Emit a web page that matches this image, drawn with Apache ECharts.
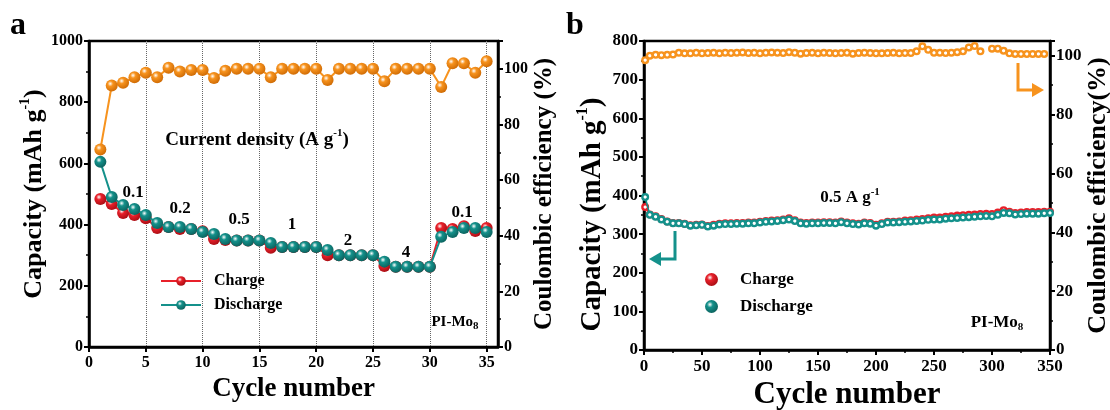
<!DOCTYPE html>
<html>
<head>
<meta charset="utf-8">
<script src="https://cdn.jsdelivr.net/npm/echarts@6/dist/echarts.min.js"></script>
<style>html,body{margin:0;padding:0;background:#fff;}#c{width:1110px;height:410px;}</style>
</head>
<body>
<div id="c"></div>
<script>
// ---------- Panel a data ----------
const cyclesA = [1,2,3,4,5,6,7,8,9,10,11,12,13,14,15,16,17,18,19,20,21,22,23,24,25,26,27,28,29,30,31,32,33,34,35];
const chargeA = [484,467,438,431,421,389,392,386,386,378,353,350,348,348,348,324,327,327,327,327,300,300,300,300,300,265,262,262,262,262,389,386,395,379,389];
const dischargeA = [605,490,464,451,431,405,392,392,386,376,369,353,348,348,348,340,327,327,327,327,317,300,300,300,300,279,262,262,262,262,360,376,389,389,376];
const ceA = [71,94,95,97,98.6,97,100.4,99,99.6,99.6,96.7,99.3,100,100,100,97,100,100,100,100,96,100,100,100,100,95.5,100,100,100,100,93.5,102,102,98.6,102.7];
const rateLabels = ['0.1','0.2','0.5','1','2','4','0.1'];

// ---------- Panel b data ----------
const cyclesB = [1,5,10,15,20,25,30,35,40,45,50,55,60,65,70,75,80,85,90,95,100,105,110,115,120,125,130,135,140,145,150,155,160,165,170,175,180,185,190,195,200,205,210,215,220,225,230,235,240,245,250,255,260,265,270,275,280,285,290,295,300,305,310,315,320,325,330,335,340,345,350];
const dischargeB = [396,350,345,338,332,328,328,326,322,323,324,320,322,325,326,326,327,327,328,328,330,332,333,334,336,338,334,328,327,328,328,329,329,328,331,328,326,325,328,327,322,326,330,330,331,332,333,334,335,337,338,338,340,341,342,343,344,345,346,347,346,350,355,354,351,352,353,353,353,354,355];
const chargeB = [370,351,346,339,333,329,329,327,323,324,325,321,324,327,328,328,329,329,330,330,332,334,335,336,338,341,336,330,329,330,330,331,331,330,333,330,328,327,330,329,324,328,332,332,333,335,336,338,339,341,343,343,345,346,348,349,350,351,352,353,352,356,362,358,355,356,357,357,357,358,358];
const ceB = [98.5,100,100.3,100.2,100.3,100.4,101,100.8,100.8,101,100.8,100.9,101,100.8,101,100.9,101,101.1,100.9,101,100.8,101,101.1,101,100.9,101.2,101,100.7,100.9,101,100.8,101,100.9,100.8,100.9,101,100.7,100.9,101,100.9,100.8,100.8,100.9,101,100.8,100.9,100.9,101.5,103.2,102,101,101,100.9,101,101.2,101.5,102.8,103.3,101.5,null,102.4,102.4,101.7,100.8,100.6,100.6,100.6,100.6,100.6,100.6,null];

const FONT = '"Liberation Serif","Times New Roman",serif';
const RED = '#e8202a', TEAL = '#14918b', ORANGE = '#f7931e';

function pairs(xs, ys){ return xs.map((x,i)=>[x, ys[i]]); }
function sphere(base, dark){
  return {type:'radial', x:0.38, y:0.35, r:0.75, colorStops:[
    {offset:0,color:'#ffffff'},{offset:0.3,color:base},{offset:1,color:dark}]};
}
function ring(base){
  return {type:'radial', x:0.5, y:0.5, r:0.5, colorStops:[
    {offset:0,color:'#ffffff'},{offset:0.28,color:'#ffffff'},{offset:0.5,color:base},{offset:1,color:base}]};
}
const plain = v => String(v);
const tickLbl = {fontFamily:FONT, fontWeight:'bold', fontSize:16, color:'#000', formatter:plain};
const tickLblB = {fontFamily:FONT, fontWeight:'bold', fontSize:17, color:'#000', formatter:plain};
const axLine = {show:true, onZero:false, lineStyle:{color:'#000', width:2.5}};
function nameRich(fs){
  return {
    t:{fontFamily:FONT, fontWeight:'bold', fontSize:fs, color:'#000', lineHeight:fs+6},
    s:{fontFamily:FONT, fontWeight:'bold', fontSize:Math.round(fs*0.55), color:'#000', verticalAlign:'top', lineHeight:fs+6}
  };
}

const chart = echarts.init(document.getElementById('c'));
const option = {
  animation:false,
  backgroundColor:'#fff',
  grid:[
    {left:89, top:41, width:409, height:306, show:true, borderColor:'#000', borderWidth:2.5, containLabel:false, outerBoundsMode:'none'},
    {left:644, top:41, width:406, height:309, show:true, borderColor:'#000', borderWidth:2.5, containLabel:false, outerBoundsMode:'none'}
  ],
  xAxis:[
    {type:'value', gridIndex:0, min:0, max:36, interval:5,
     name:'Cycle number', nameLocation:'middle', nameGap:24,
     nameTextStyle:{fontFamily:FONT, fontWeight:'bold', fontSize:27, color:'#000'},
     axisLine:axLine, axisTick:{length:5, lineStyle:{width:2,color:'#000'}},
     axisLabel:Object.assign({margin:8, showMaxLabel:false}, tickLbl),
     splitLine:{show:true, lineStyle:{type:'dotted', color:'#666', width:1}}},
    {type:'value', gridIndex:1, min:0, max:350, interval:50,
     name:'Cycle number', nameLocation:'middle', nameGap:22,
     nameTextStyle:{fontFamily:FONT, fontWeight:'bold', fontSize:31, color:'#000'},
     axisLine:axLine, axisTick:{length:5, lineStyle:{width:2,color:'#000'}},
     minorTick:{show:true, splitNumber:2, length:3, lineStyle:{width:1.5,color:'#000'}},
     axisLabel:Object.assign({margin:8}, tickLblB),
     splitLine:{show:false}}
  ],
  yAxis:[
    {type:'value', gridIndex:0, min:0, max:1000, interval:200, position:'left',
     name:'{t|Capacity (mAh g}{s|-1}{t|)}', nameLocation:'middle', nameGap:38,
     nameTextStyle:{rich:nameRich(26)},
     axisLine:axLine, axisTick:{length:5, lineStyle:{width:2,color:'#000'}},
     minorTick:{show:true, splitNumber:2, length:3, lineStyle:{width:1.5,color:'#000'}},
     axisLabel:Object.assign({margin:6}, tickLbl), splitLine:{show:false}},
    {type:'value', gridIndex:0, min:0, max:110, interval:20, position:'right',
     name:'Coulombic efficiency (%)', nameLocation:'middle', nameGap:28, nameRotate:90,
     nameTextStyle:{fontFamily:FONT, fontWeight:'bold', fontSize:25, color:'#000'},
     axisLine:axLine, axisTick:{length:5, lineStyle:{width:2,color:'#000'}},
     minorTick:{show:true, splitNumber:2, length:3, lineStyle:{width:1.5,color:'#000'}},
     axisLabel:Object.assign({margin:6, showMaxLabel:false}, tickLbl), splitLine:{show:false}},
    {type:'value', gridIndex:1, min:0, max:800, interval:100, position:'left',
     name:'{t|Capacity (mAh g}{s|-1}{t|)}', nameLocation:'middle', nameGap:34,
     nameTextStyle:{rich:nameRich(29), padding:[0,38,0,0]},
     axisLine:axLine, axisTick:{length:5, lineStyle:{width:2,color:'#000'}},
     minorTick:{show:true, splitNumber:2, length:3, lineStyle:{width:1.5,color:'#000'}},
     axisLabel:Object.assign({margin:6}, tickLblB), splitLine:{show:false}},
    {type:'value', gridIndex:1, min:0, max:105, interval:20, position:'right',
     name:'Coulombic efficiency(%)', nameLocation:'middle', nameGap:27, nameRotate:90,
     nameTextStyle:{fontFamily:FONT, fontWeight:'bold', fontSize:26, color:'#000'},
     axisLine:axLine, axisTick:{length:5, lineStyle:{width:2,color:'#000'}},
     minorTick:{show:true, splitNumber:2, length:3, lineStyle:{width:1.5,color:'#000'}},
     axisLabel:Object.assign({margin:6, showMaxLabel:false}, tickLblB), splitLine:{show:false}}
  ],
  legend:[
    {data:['Charge','Discharge'], left:155, top:268, orient:'vertical', itemWidth:40, itemHeight:12, itemGap:8,
     selectedMode:false,
     textStyle:{fontFamily:FONT, fontWeight:'bold', fontSize:16, color:'#000', padding:[0,0,0,8]}},
    {data:[{name:'Charge ', itemStyle:{color:sphere(RED,'#9e0a10')}},
           {name:'Discharge ', itemStyle:{color:sphere(TEAL,'#0a5a56')}}],
     left:700, top:266, orient:'vertical', icon:'circle', itemWidth:13, itemHeight:13, itemGap:10,
     selectedMode:false, formatter:function(n){return n.trim();},
     textStyle:{fontFamily:FONT, fontWeight:'bold', fontSize:17, color:'#000', padding:[0,0,0,17]}}
  ],
  series:[
    {name:'Charge', type:'line', xAxisIndex:0, yAxisIndex:0, data:pairs(cyclesA, chargeA),
     symbol:'circle', symbolSize:12, color:RED,
     lineStyle:{color:RED, width:2}, itemStyle:{color:sphere(RED,'#9e0a10')}, z:3},
    {name:'Discharge', type:'line', xAxisIndex:0, yAxisIndex:0, data:pairs(cyclesA, dischargeA),
     symbol:'circle', symbolSize:12, color:TEAL,
     lineStyle:{color:TEAL, width:2}, itemStyle:{color:sphere(TEAL,'#0a5a56')}, z:4},
    {name:'CE', type:'line', xAxisIndex:0, yAxisIndex:1, data:pairs(cyclesA, ceA),
     symbol:'circle', symbolSize:12, color:ORANGE,
     lineStyle:{color:ORANGE, width:2}, itemStyle:{color:sphere(ORANGE,'#c86400')}, z:5},
    {name:'Charge ', type:'line', xAxisIndex:1, yAxisIndex:2, data:pairs(cyclesB, chargeB),
     symbol:'circle', symbolSize:8, color:RED,
     lineStyle:{color:RED, width:1.5}, itemStyle:{color:ring(RED)}, z:3},
    {name:'Discharge ', type:'line', xAxisIndex:1, yAxisIndex:2, data:pairs(cyclesB, dischargeB),
     symbol:'circle', symbolSize:8, color:TEAL,
     lineStyle:{color:TEAL, width:1.5}, itemStyle:{color:ring(TEAL)}, z:4},
    {name:'CE ', type:'line', xAxisIndex:1, yAxisIndex:3, data:pairs(cyclesB, ceB),
     symbol:'circle', symbolSize:8, color:ORANGE, connectNulls:false,
     lineStyle:{color:ORANGE, width:1.5}, itemStyle:{color:ring(ORANGE)}, z:5}
  ],
  graphic:[
    {type:'text', left:10, top:10, style:{text:'a', font:'bold 32px '+FONT, fill:'#000'}},
    {type:'text', left:566, top:10, style:{text:'b', font:'bold 32px '+FONT, fill:'#000'}},
    {type:'text', x:257, y:140, style:{text:'{t|Current density (A g}{s|-1}{t|)}', textAlign:'center', textVerticalAlign:'middle',
      rich:{t:{fontFamily:FONT, fontWeight:'bold', fontSize:19, fill:'#000', lineHeight:24},
            s:{fontFamily:FONT, fontWeight:'bold', fontSize:11, fill:'#000', verticalAlign:'top', lineHeight:24}}}},
    {type:'text', x:133, y:193, style:{text:rateLabels[0], font:'bold 17px '+FONT, fill:'#000', textAlign:'center', textVerticalAlign:'middle'}},
    {type:'text', x:180, y:209, style:{text:rateLabels[1], font:'bold 17px '+FONT, fill:'#000', textAlign:'center', textVerticalAlign:'middle'}},
    {type:'text', x:239, y:220, style:{text:rateLabels[2], font:'bold 17px '+FONT, fill:'#000', textAlign:'center', textVerticalAlign:'middle'}},
    {type:'text', x:292, y:225, style:{text:rateLabels[3], font:'bold 17px '+FONT, fill:'#000', textAlign:'center', textVerticalAlign:'middle'}},
    {type:'text', x:348, y:241, style:{text:rateLabels[4], font:'bold 17px '+FONT, fill:'#000', textAlign:'center', textVerticalAlign:'middle'}},
    {type:'text', x:406, y:253, style:{text:rateLabels[5], font:'bold 17px '+FONT, fill:'#000', textAlign:'center', textVerticalAlign:'middle'}},
    {type:'text', x:462, y:213, style:{text:rateLabels[6], font:'bold 17px '+FONT, fill:'#000', textAlign:'center', textVerticalAlign:'middle'}},
    {type:'text', x:455, y:322, style:{text:'{t|PI-Mo}{s|8}', textAlign:'center', textVerticalAlign:'middle',
      rich:{t:{fontFamily:FONT, fontWeight:'bold', fontSize:15, fill:'#000', lineHeight:20},
            s:{fontFamily:FONT, fontWeight:'bold', fontSize:11, fill:'#000', verticalAlign:'bottom', lineHeight:20}}}},
    {type:'text', x:997, y:323, style:{text:'{t|PI-Mo}{s|8}', textAlign:'center', textVerticalAlign:'middle',
      rich:{t:{fontFamily:FONT, fontWeight:'bold', fontSize:17, fill:'#000', lineHeight:20},
            s:{fontFamily:FONT, fontWeight:'bold', fontSize:11, fill:'#000', verticalAlign:'bottom', lineHeight:20}}}},
    {type:'text', x:850, y:198, style:{text:'{t|0.5 A g}{s|-1}', textAlign:'center', textVerticalAlign:'middle',
      rich:{t:{fontFamily:FONT, fontWeight:'bold', fontSize:17, fill:'#000', lineHeight:22},
            s:{fontFamily:FONT, fontWeight:'bold', fontSize:11, fill:'#000', verticalAlign:'top', lineHeight:22}}}},
    {type:'polyline', shape:{points:[[675,231],[675,259],[659,259]]}, style:{stroke:TEAL, lineWidth:3, fill:null}},
    {type:'polygon', shape:{points:[[649,259],[661,252],[661,266]]}, style:{fill:TEAL}},
    {type:'polyline', shape:{points:[[1018,63],[1018,90],[1033,90]]}, style:{stroke:ORANGE, lineWidth:3, fill:null}},
    {type:'polygon', shape:{points:[[1044,90],[1032,83],[1032,97]]}, style:{fill:ORANGE}}
  ]
};
chart.setOption(option);
</script>
</body>
</html>
